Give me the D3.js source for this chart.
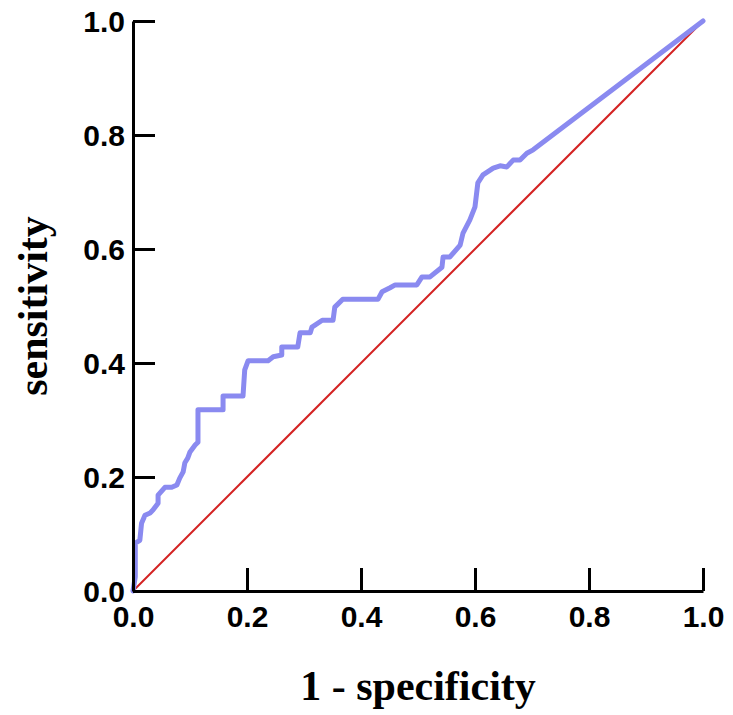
<!DOCTYPE html>
<html>
<head>
<meta charset="utf-8">
<script src="https://cdn.jsdelivr.net/npm/d3@7"></script>
<style>
  body { margin: 0; background: #fff; }
  .tick text { font-family: "Liberation Sans", Arial, sans-serif; font-weight: bold; font-size: 30px; fill: #000; }
  .axis-title { font-family: "Liberation Serif", "Times New Roman", serif; font-weight: bold; font-size: 42px; fill: #000; }
</style>
</head>
<body>
<div id="chart"></div>
<script>
// ROC curve points
const fpr = [0, 0.004, 0.004, 0.012, 0.015, 0.021, 0.030, 0.035, 0.044, 0.044,
    0.056, 0.068, 0.077, 0.082, 0.088, 0.091, 0.096, 0.100, 0.109, 0.114,
    0.114, 0.158, 0.158, 0.193, 0.196, 0.202, 0.237, 0.246, 0.261, 0.261,
    0.289, 0.293, 0.311, 0.314, 0.332, 0.351, 0.354, 0.368, 0.430, 0.437,
    0.451, 0.460, 0.498, 0.507, 0.521, 0.542, 0.544, 0.556, 0.574, 0.579,
    0.591, 0.600, 0.605, 0.614, 0.632, 0.644, 0.656, 0.667, 0.679, 0.691,
    0.702, 1];
const tpr = [0, 0.025, 0.084, 0.089, 0.119, 0.133, 0.137, 0.142, 0.154, 0.168,
    0.182, 0.182, 0.186, 0.198, 0.209, 0.225, 0.233, 0.244, 0.256, 0.261,
    0.318, 0.318, 0.342, 0.342, 0.388, 0.404, 0.404, 0.411, 0.414, 0.428,
    0.428, 0.453, 0.453, 0.463, 0.475, 0.475, 0.498, 0.512, 0.512, 0.525,
    0.532, 0.537, 0.537, 0.551, 0.551, 0.568, 0.586, 0.586, 0.607, 0.628,
    0.651, 0.674, 0.716, 0.730, 0.742, 0.746, 0.744, 0.756, 0.756, 0.768,
    0.774, 1];
const tickValues = [0, 0.2, 0.4, 0.6, 0.8, 1.0];
const xTitle = '1 - specificity';
const yTitle = 'sensitivity';

const width = 733, height = 715;
const margin = { top: 21, left: 133 };
const plotW = 570, plotH = 570;

const svg = d3.select('#chart').append('svg')
    .attr('width', width)
    .attr('height', height);

const x = d3.scaleLinear().domain([0, 1]).range([margin.left, margin.left + plotW]);
const y = d3.scaleLinear().domain([0, 1]).range([margin.top + plotH, margin.top]);

// Reference diagonal
svg.append('line')
    .attr('x1', x(0)).attr('y1', y(0))
    .attr('x2', x(1)).attr('y2', y(1))
    .attr('stroke', '#d42222')
    .attr('stroke-width', 2);

// ROC curve
const points = fpr.map((v, i) => [v, tpr[i]]);
svg.append('path')
    .datum(points)
    .attr('fill', 'none')
    .attr('stroke', '#8a8af0')
    .attr('stroke-width', 5)
    .attr('stroke-linejoin', 'round')
    .attr('stroke-linecap', 'round')
    .attr('d', d3.line().x(d => x(d[0])).y(d => y(d[1])));

// Axes with inward ticks
const xAxis = svg.append('g')
    .attr('transform', `translate(0,${y(0)})`)
    .call(d3.axisBottom(x).tickValues(tickValues).tickFormat(d3.format('.1f'))
        .tickSizeInner(-23).tickSizeOuter(0).tickPadding(15));

const yAxis = svg.append('g')
    .attr('transform', `translate(${x(0)},0)`)
    .call(d3.axisLeft(y).tickValues(tickValues).tickFormat(d3.format('.1f'))
        .tickSizeInner(-22).tickSizeOuter(0).tickPadding(8));

[xAxis, yAxis].forEach(g => {
    g.select('.domain').attr('stroke', '#000').attr('stroke-width', 3);
    g.selectAll('.tick line').attr('stroke', '#000').attr('stroke-width', 3);
});
xAxis.selectAll('.tick text').attr('dy', '0.71em');
yAxis.selectAll('.tick text').attr('dy', '0.35em');

// Axis titles
svg.append('text')
    .attr('class', 'axis-title')
    .attr('x', x(0.5))
    .attr('y', 700)
    .attr('text-anchor', 'middle')
    .text(xTitle);

svg.append('text')
    .attr('class', 'axis-title')
    .attr('transform', `translate(47,${y(0.5)}) rotate(-90)`)
    .attr('text-anchor', 'middle')
    .text(yTitle);
</script>
</body>
</html>
